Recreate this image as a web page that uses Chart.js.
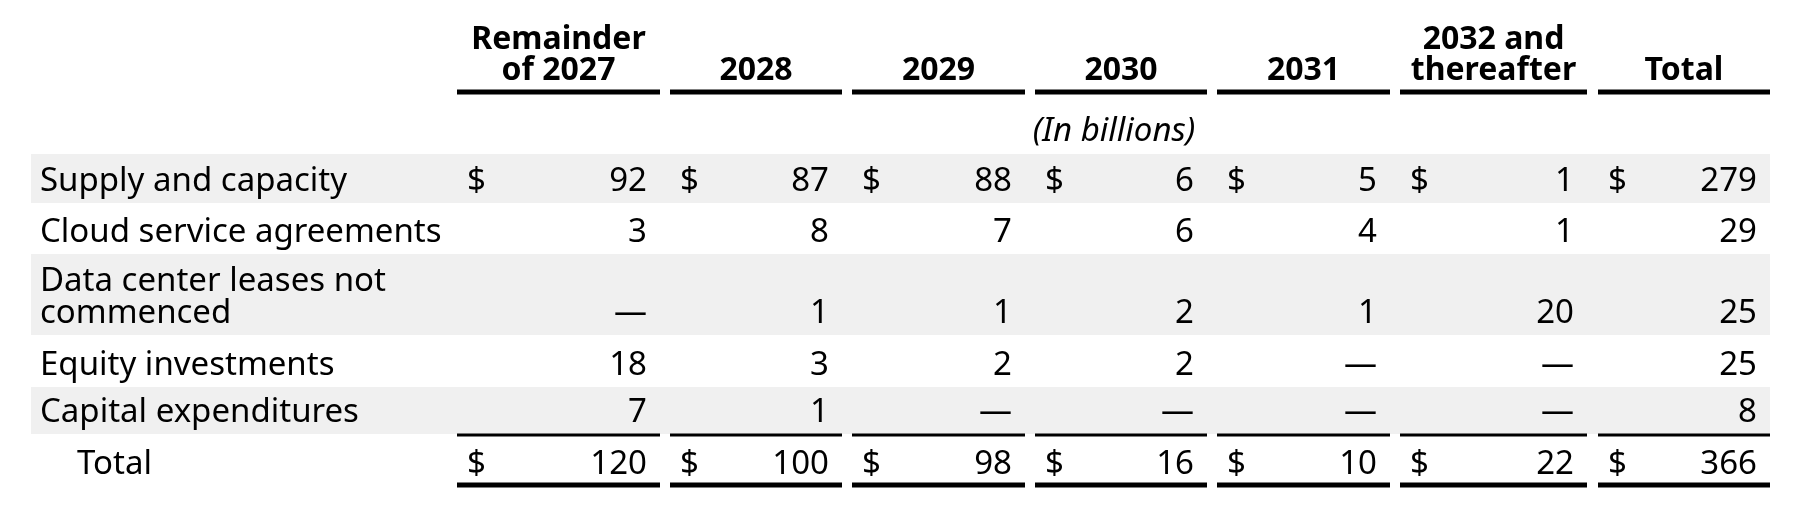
<!DOCTYPE html>
<html>
<head>
<meta charset="utf-8">
<script src="https://cdn.jsdelivr.net/npm/chart.js@4/dist/chart.umd.min.js"></script>
<style>
  html, body { margin: 0; padding: 0; background: #fff; }
  #wrap { width: 1794px; height: 508px; position: relative; }
</style>
</head>
<body>
<div id="wrap"><canvas id="table"></canvas></div>
<script>
// table content
const columnHeaders = [["Remainder", "of 2027"], ["2028"], ["2029"], ["2030"], ["2031"], ["2032 and", "thereafter"], ["Total"]];
const rowLabels = [["Supply and capacity"], ["Cloud service agreements"], ["Data center leases not", "commenced"], ["Equity investments"], ["Capital expenditures"]];
const unitNote = "(In billions)";
const totalLabel = "Total";

const supplyAndCapacity = [92, 87, 88, 6, 5, 1, 279];
const cloudServiceAgreements = [3, 8, 7, 6, 4, 1, 29];
const dataCenterLeases = [null, 1, 1, 2, 1, 20, 25];
const equityInvestments = [18, 3, 2, 2, null, null, 25];
const capitalExpenditures = [7, 1, null, null, null, null, 8];
const totals = [120, 100, 98, 16, 10, 22, 366];

const rowValues = [supplyAndCapacity, cloudServiceAgreements, dataCenterLeases, equityInvestments, capitalExpenditures];
const dollarRows = [true, false, false, false, false];

// layout, in scale units
const colEdges = [[457, 660], [670, 842], [852, 1025], [1035, 1207], [1217, 1390], [1400, 1587], [1598, 1770]];
const rowEdges = [[154, 203], [203, 254], [254, 335], [335, 387], [387, 434]];
const bandLeft = 31, bandRight = 1770, labelX = 40, totalLabelX = 77;
const headerBaselines = [49, 80], headerRule = 92, noteBaseline = 141, noteX = 1114;
const totalBaseline = 474, totalRule = 435, bottomRule = 485;

const FONT = '"Noto Sans", sans-serif';

function cellText(v) {
  return v === null ? "\u2014" : String(v);
}

const tablePlugin = {
  id: "tablePlugin",
  beforeDraw(chart) {
    const { ctx, scales: { x, y } } = chart;
    ctx.save();
    ctx.fillStyle = "#fff";
    ctx.fillRect(0, 0, chart.width, chart.height);
    ctx.fillStyle = "#f0f0f0";
    rowEdges.forEach(([top, bottom], i) => {
      if (i % 2 === 0) {
        const py = y.getPixelForValue(top);
        ctx.fillRect(x.getPixelForValue(bandLeft), py, x.getPixelForValue(bandRight) - x.getPixelForValue(bandLeft), y.getPixelForValue(bottom) - py);
      }
    });
    ctx.restore();
  },
  afterDraw(chart) {
    const { ctx, scales: { x, y } } = chart;
    ctx.save();
    ctx.fillStyle = "#000";
    ctx.strokeStyle = "#000";
    ctx.textBaseline = "alphabetic";

    // headers
    ctx.font = "bold 32px " + FONT;
    ctx.textAlign = "center";
    columnHeaders.forEach((lines, c) => {
      const cx = x.getPixelForValue((colEdges[c][0] + colEdges[c][1]) / 2);
      const start = headerBaselines.length - lines.length;
      lines.forEach((t, k) => ctx.fillText(t, cx, y.getPixelForValue(headerBaselines[start + k])));
      drawRule(ctx, x, y, colEdges[c], headerRule, 5);
    });

    ctx.font = "italic 33px " + FONT;
    ctx.fillText(unitNote, x.getPixelForValue(noteX), y.getPixelForValue(noteBaseline));

    // body rows
    ctx.font = "33px " + FONT;
    rowLabels.forEach((lines, r) => {
      const base = rowEdges[r][1] - 12;
      ctx.textAlign = "left";
      lines.forEach((t, k) => {
        ctx.fillText(t, x.getPixelForValue(labelX), y.getPixelForValue(base - (lines.length - 1 - k) * 32));
      });
      rowValues[r].forEach((v, c) => {
        drawCell(ctx, x, y, c, v, base, dollarRows[r]);
      });
    });

    // totals
    ctx.textAlign = "left";
    ctx.fillText(totalLabel, x.getPixelForValue(totalLabelX), y.getPixelForValue(totalBaseline));
    totals.forEach((v, c) => {
      drawCell(ctx, x, y, c, v, totalBaseline, true);
      drawRule(ctx, x, y, colEdges[c], totalRule, 3);
      drawRule(ctx, x, y, colEdges[c], bottomRule, 5);
    });
    ctx.restore();
  }
};

function drawRule(ctx, x, y, edges, at, width) {
  ctx.lineWidth = width;
  ctx.beginPath();
  ctx.moveTo(x.getPixelForValue(edges[0]), y.getPixelForValue(at));
  ctx.lineTo(x.getPixelForValue(edges[1]), y.getPixelForValue(at));
  ctx.stroke();
}

function drawCell(ctx, x, y, c, v, base, withDollar) {
  const py = y.getPixelForValue(base);
  if (withDollar) {
    ctx.textAlign = "left";
    ctx.fillText("$", x.getPixelForValue(colEdges[c][0] + 10), py);
  }
  ctx.textAlign = "right";
  ctx.fillText(cellText(v), x.getPixelForValue(colEdges[c][1] - 13), py);
}

new Chart(document.getElementById("table"), {
  type: "scatter",
  data: { datasets: [] },
  options: {
    responsive: true,
    maintainAspectRatio: false,
    animation: false,
    devicePixelRatio: 1,
    layout: { padding: 0 },
    plugins: { legend: { display: false }, tooltip: { enabled: false } },
    scales: {
      x: { type: "linear", min: 0, max: 1794, display: false },
      y: { type: "linear", min: 0, max: 508, reverse: true, display: false }
    }
  },
  plugins: [tablePlugin]
});
</script>
</body>
</html>
